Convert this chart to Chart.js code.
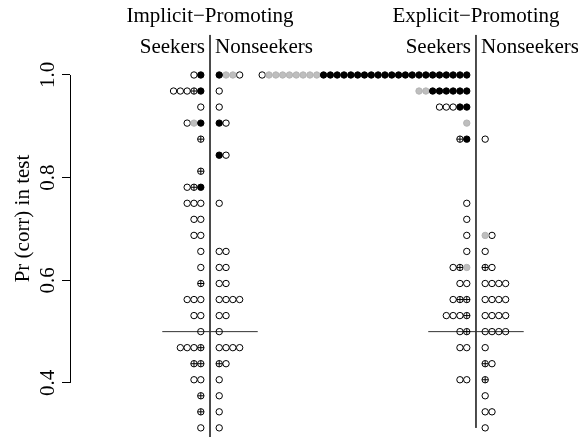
<!DOCTYPE html>
<html>
<head>
<meta charset="utf-8">
<script src="https://cdn.jsdelivr.net/npm/chart.js@4.4.1/dist/chart.umd.min.js"></script>
<style>
  html, body { margin: 0; padding: 0; background: #fff; }
  #wrap { width: 578px; height: 437px; }
</style>
</head>
<body>
<div id="wrap"><canvas id="chart"></canvas></div>
<script>
// rows: correct test trials out of 32, top row first
const levels = [32, 31, 30, 29, 28, 27, 26, 25, 24, 23, 22, 21, 20, 19, 18, 17, 16, 15, 14, 13, 12, 11, 10];
const groupNames = ["Implicit\u2212Promoting", "Explicit\u2212Promoting"];
const subNames = ["Seekers", "Nonseekers"];
const tickValues = [0.4, 0.6, 0.8, 1.0];

// one string per row, dots left to right: o open, b black, g grey, x circle with cross
const implicitSeekers = ["ob", "oooxb", "o", "ogb", "x", "", "x", "oxb", "ooo", "oo", "oo", "o",
  "o", "x", "ooo", "oo", "o", "ooox", "xx", "oo", "x", "x", "o"];
const implicitNonseekers = ["bggo", "o", "o", "bo", "", "bo", "", "", "o", "", "", "oo",
  "oo", "oo", "oooo", "oo", "o", "oooo", "xo", "o", "o", "o", "o"];
const explicitSeekers = ["oggggggggbbbbbbbbbbbbbbbbbbbbbb", "ggbbbbbb", "ooobb", "g", "xb", "", "", "", "o", "o", "o", "o",
  "oxg", "oo", "oxx", "ooox", "ox", "oo", "", "oo", "", "", ""];
const explicitNonseekers = ["", "", "", "", "o", "", "", "", "", "", "go", "o",
  "xo", "oooo", "oooo", "oooo", "oooo", "o", "xo", "x", "o", "oo", "o"];

const SERIF = "'Liberation Serif', 'Times New Roman', serif";
const centers = [0, 39];   // x of the two dividers, in dot widths
const gap = 1.35;          // space between divider and first dot

const buckets = { o: [], b: [], g: [], x: [] };
function place(rows, center, side) {
    rows.forEach((row, r) => {
        const y = levels[r] / 32;
        const n = row.length;
        for (let j = 0; j < n; j++) {
            const x = side < 0 ? center - gap - (n - 1 - j) : center + gap + j;
            buckets[row[j]].push({ x, y });
        }
    });
}
place(implicitSeekers, centers[0], -1);
place(implicitNonseekers, centers[0], 1);
place(explicitSeekers, centers[1], -1);
place(explicitNonseekers, centers[1], 1);

function segment(points) {
    return {
        data: points, showLine: true, pointRadius: 0, borderColor: '#333', borderWidth: 1, order: 10
    };
}

const dot = { pointStyle: 'circle', pointRadius: 3.2, pointBorderWidth: 1, pointHoverRadius: 3.2 };

const decor = {
    id: 'decor',
    afterDraw(chart) {
        const { ctx, scales: { x, y } } = chart;
        ctx.save();
        // R style axis: only from first to last tick
        const ax = Math.floor(y.right) + 0.5;
        ctx.strokeStyle = '#000';
        ctx.lineWidth = 1;
        ctx.beginPath();
        ctx.moveTo(ax, y.getPixelForValue(tickValues[0]));
        ctx.lineTo(ax, y.getPixelForValue(tickValues[tickValues.length - 1]));
        ctx.stroke();

        ctx.fillStyle = '#000';
        ctx.font = "21px " + SERIF;
        ctx.textBaseline = 'alphabetic';
        centers.forEach((c, i) => {
            const px = x.getPixelForValue(c);
            ctx.textAlign = 'center';
            ctx.fillText(groupNames[i], px, 22);
            ctx.textAlign = 'right';
            ctx.fillText(subNames[0], px - 5, 53);
            ctx.textAlign = 'left';
            ctx.fillText(subNames[1], px + 5, 53);
        });
        ctx.restore();
    }
};

new Chart(document.getElementById('chart'), {
    type: 'scatter',
    data: {
        datasets: [
            segment([{ x: centers[0] - 7, y: 0.5 }, { x: centers[0] + 7, y: 0.5 }]),
            segment([{ x: centers[1] - 7, y: 0.5 }, { x: centers[1] + 7, y: 0.5 }]),
            segment([{ x: centers[0], y: 1.078 }, { x: centers[0], y: 0.28 }]),
            segment([{ x: centers[1], y: 1.078 }, { x: centers[1], y: 0.3125 }]),
            { ...dot, data: buckets.o.concat(buckets.x), backgroundColor: 'rgba(0,0,0,0)', borderColor: '#000', order: 4 },
            { ...dot, data: buckets.g, backgroundColor: '#bebebe', borderColor: '#b4b4b4', order: 3 },
            { ...dot, data: buckets.b, backgroundColor: '#000', borderColor: '#000', order: 2 },
            { data: buckets.x, pointStyle: 'cross', pointRadius: 3.2, pointBorderWidth: 1, borderColor: '#000', order: 1 }
        ]
    },
    options: {
        responsive: true,
        maintainAspectRatio: false,
        animation: false,
        events: [],
        layout: { padding: 0, autoPadding: false },
        plugins: { legend: { display: false }, tooltip: { enabled: false } },
        scales: {
            x: { type: 'linear', display: false, min: -20.53, max: 53.96 },
            y: {
                min: 0.2947,
                max: 1.1461,
                afterBuildTicks: s => { s.ticks = tickValues.map(v => ({ value: v })); },
                afterFit: s => { s.width = 70; s.paddingTop = 0; s.paddingBottom = 0; },
                border: { display: false },
                grid: { drawOnChartArea: false, drawTicks: true, tickLength: 8, color: '#000', lineWidth: 1 },
                ticks: {
                    minRotation: 90, maxRotation: 90, crossAlign: 'center', padding: 0,
                    color: '#000', font: { family: SERIF, size: 21 },
                    callback: v => v.toFixed(1)
                },
                title: {
                    display: true, text: 'Pr (corr) in test', color: '#000',
                    font: { family: SERIF, size: 21 }, padding: { top: 10.5, bottom: 0 }
                }
            }
        }
    },
    plugins: [decor]
});
</script>
</body>
</html>
